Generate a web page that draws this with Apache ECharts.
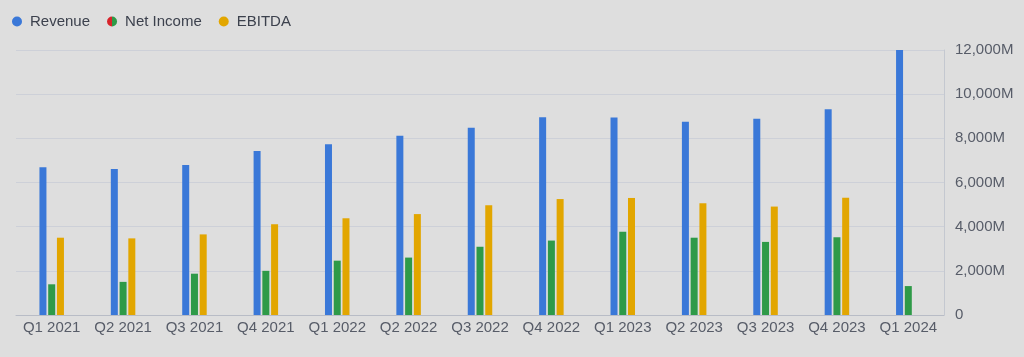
<!DOCTYPE html>
<html>
<head>
<meta charset="utf-8">
<script src="https://cdn.jsdelivr.net/npm/echarts@6/dist/echarts.min.js"></script>
<style>
html,body{margin:0;padding:0;background:#dedede;}
#c{width:1024px;height:357px;}
</style>
</head>
<body>
<div id="c"></div>
<script>
const categories = ['Q1 2021','Q2 2021','Q3 2021','Q4 2021','Q1 2022','Q2 2022','Q3 2022','Q4 2022','Q1 2023','Q2 2023','Q3 2023','Q4 2023','Q1 2024'];
const revenue   = [6690, 6610, 6790, 7430, 7730, 8120, 8480, 8950, 8940, 8750, 8890, 9320, 12000];
const netIncome = [1390, 1500, 1870, 2000, 2460, 2600, 3090, 3370, 3770, 3500, 3310, 3520, 1310];
const ebitda    = [3500, 3470, 3650, 4110, 4380, 4570, 4970, 5250, 5300, 5060, 4910, 5310, null];
const yTicks = [0, 2000, 4000, 6000, 8000, 10000, 12000];

const chart = echarts.init(document.getElementById('c'));
const font = '"Liberation Sans", Arial, sans-serif';
chart.setOption({
  backgroundColor: '#dedede',
  textStyle: {fontFamily: font},
  legend: {
    left: 7, top: 9, itemWidth: 10, itemHeight: 10, itemGap: 17,
    icon: 'circle',
    textStyle: {color: '#3c414d', fontSize: 15, fontFamily: font, padding: [0, 0, 0, 3]},
    data: [
      {name: 'Revenue'},
      {name: 'Net Income', itemStyle: {color: {type: 'linear', x: 0, y: 0, x2: 1, y2: 0, colorStops: [
        {offset: 0, color: '#d8232a'}, {offset: 0.5, color: '#d8232a'}, {offset: 0.5, color: '#2e9a48'}, {offset: 1, color: '#2e9a48'}]}}},
      {name: 'EBITDA'}
    ]
  },
  grid: {left: 16, right: 80, top: 50, bottom: 42},
  xAxis: {
    type: 'category', data: categories,
    axisLine: {lineStyle: {color: '#b8bcc6'}},
    axisTick: {alignWithLabel: true, length: 4, lineStyle: {color: '#b8bcc6'}},
    axisLabel: {color: '#575c68', fontSize: 15, margin: 5, interval: 0, fontFamily: font}
  },
  yAxis: {
    type: 'value', position: 'right', min: yTicks[0], max: yTicks[yTicks.length - 1], interval: 2000,
    axisLine: {show: true, lineStyle: {color: '#c4c8d0'}},
    axisTick: {show: false},
    splitLine: {lineStyle: {color: '#cdd0d8'}},
    axisLabel: {color: '#575c68', fontSize: 15, margin: 11, fontFamily: font,
      formatter: v => v === 0 ? '0' : v.toLocaleString('en-US') + 'M'}
  },
  series: [
    {name: 'Revenue', type: 'bar', data: revenue, barWidth: 7, barGap: '25%', itemStyle: {color: '#3a78d8'}},
    {name: 'Net Income', type: 'bar', data: netIncome, barWidth: 7, barGap: '25%', itemStyle: {color: '#2e9a48'}},
    {name: 'EBITDA', type: 'bar', data: ebitda, barWidth: 7, barGap: '25%', itemStyle: {color: '#e2a600'}}
  ],
  animation: false
});
</script>
</body>
</html>
